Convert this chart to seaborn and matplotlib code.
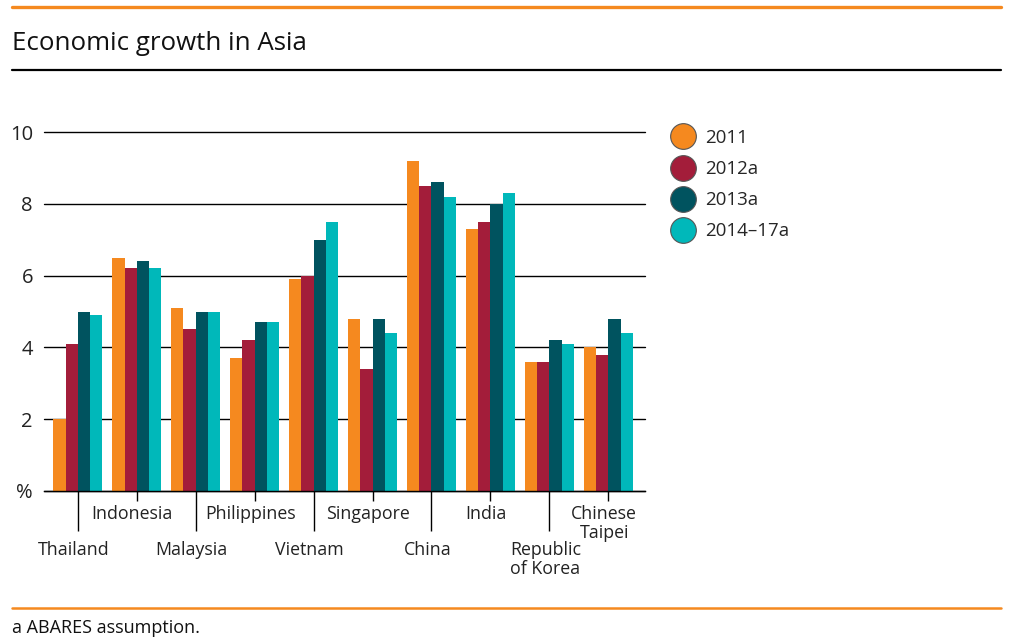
import matplotlib
matplotlib.use("Agg")
import matplotlib.pyplot as plt
from matplotlib.lines import Line2D
import seaborn as sns
import pandas as pd

countries = ["Thailand", "Indonesia", "Malaysia", "Philippines", "Vietnam",
             "Singapore", "China", "India", "Republic of Korea", "Chinese Taipei"]
tick_labels = ["Thailand", "Indonesia", "Malaysia", "Philippines", "Vietnam",
               "Singapore", "China", "India", "Republic\nof Korea", "Chinese\nTaipei"]
series = ["2011", "2012a", "2013a", "2014–17a"]
v2011 = [2.0, 6.5, 5.1, 3.7, 5.9, 4.8, 9.2, 7.3, 3.6, 4.0]
v2012 = [4.1, 6.2, 4.5, 4.2, 6.0, 3.4, 8.5, 7.5, 3.6, 3.8]
v2013 = [5.0, 6.4, 5.0, 4.7, 7.0, 4.8, 8.6, 8.0, 4.2, 4.8]
v2014 = [4.9, 6.2, 5.0, 4.7, 7.5, 4.4, 8.2, 8.3, 4.1, 4.4]
colors = ["#F5891F", "#A31D3A", "#00535F", "#00B8BA"]
y_ticks = [0, 2, 4, 6, 8, 10]
y_tick_labels = ["%", "2", "4", "6", "8", "10"]

rows = []
for s, vals in zip(series, [v2011, v2012, v2013, v2014]):
    for c, v in zip(countries, vals):
        rows.append({"country": c, "series": s, "value": v})
df = pd.DataFrame(rows)

sns.set_style("white")
FONT = "Open Sans"
plt.rcParams["font.family"] = [FONT, "DejaVu Sans"]

W, H = 1013, 643
fig = plt.figure(figsize=(W / 100, H / 100), dpi=100)

ax_l, ax_r, ax_b, ax_t = 44, 645, 491, 132
ax = fig.add_axes([ax_l / W, 1 - ax_b / H, (ax_r - ax_l) / W, (ax_b - ax_t) / H])
sns.barplot(data=df, x="country", y="value", hue="series", order=countries,
            hue_order=series, palette=colors, width=0.82, saturation=1,
            linewidth=0, ax=ax, legend=False)

ax.set_xlim(-0.57, 9.62)
ax.set_ylim(0, 10)
ax.set_yticks(y_ticks)
ax.set_yticklabels(y_tick_labels, fontsize=14.5, color="#222222")
ax.tick_params(axis="y", length=0, pad=8)
ax.set_axisbelow(True)
ax.yaxis.grid(True, color="black", linewidth=1.0)
for gl in ax.get_ygridlines():
    gl.set_clip_on(False)
for sp in ["top", "right", "left"]:
    ax.spines[sp].set_visible(False)
ax.spines["bottom"].set_color("black")
ax.spines["bottom"].set_linewidth(1.0)
ax.set_xlabel("")
ax.set_ylabel("")

# x ticks: long for even, short for odd
ax.set_xticks(range(0, 10, 2))
ax.set_xticks(range(1, 10, 2), minor=True)
ax.set_xticklabels([])
ax.tick_params(axis="x", which="both", bottom=True, direction="out", color="black", width=1)
ax.tick_params(axis="x", which="major", length=40 * 0.72)
ax.tick_params(axis="x", which="minor", length=10 * 0.72)

for i, lab in enumerate(tick_labels):
    off = -14 if i % 2 == 1 else -50
    ha_multi = "left" if "Republic" in lab else "center"
    ax.annotate(lab, xy=(i, 0), xycoords=("data", "axes fraction"),
                xytext=(-3, off * 0.72), textcoords="offset points",
                ha="center", va="top", fontsize=12.8, color="#222222",
                multialignment=ha_multi, linespacing=1.08)

# legend
handles = [Line2D([0], [0], marker="o", linestyle="none", markersize=18.5,
                  markerfacecolor=c, markeredgecolor="#555555", markeredgewidth=0.8)
           for c in colors]
fig.legend(handles, series, loc="upper left", bbox_to_anchor=(662 / W, 1 - 121.5 / H),
           frameon=False, fontsize=13.5, handletextpad=0.5, labelspacing=0.7,
           borderaxespad=0, handlelength=1.4)

# frame lines and text
fig.add_artist(Line2D([12 / W, 1001 / W], [1 - 7 / H, 1 - 7 / H], color="#F5891F", linewidth=2.4))
fig.add_artist(Line2D([12 / W, 1001 / W], [1 - 70 / H, 1 - 70 / H], color="black", linewidth=1.6))
fig.add_artist(Line2D([12 / W, 1001 / W], [1 - 608 / H, 1 - 608 / H], color="#F5891F", linewidth=1.8))
fig.text(12 / W, 1 - 43 / H, "Economic growth in Asia", fontsize=18.6, ha="left", va="center", color="#111111")
fig.text(12 / W, 1 - 628 / H, "a ABARES assumption.", fontsize=13, ha="left", va="center", color="#111111")

fig.savefig("out.png", dpi=100)
